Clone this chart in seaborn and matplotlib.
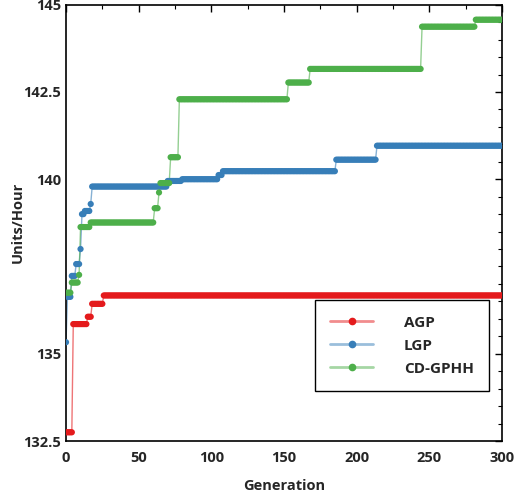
import numpy as np
import pandas as pd
import matplotlib
matplotlib.use("Agg")
import matplotlib.pyplot as plt
import matplotlib.lines as mlines
from matplotlib.legend_handler import HandlerTuple
from matplotlib.ticker import MultipleLocator, FixedLocator
import seaborn as sns

# Step series: generation where each level starts, and the level
agp_start = [0, 5, 15, 18, 26]
agp_value = [132.75, 135.85, 136.06, 136.43, 136.67]

lgp_start = [0, 1, 4, 7, 10, 11, 13, 17, 18, 70, 80, 105, 108, 186, 214]
lgp_value = [135.33, 136.63, 137.23, 137.57, 138.0, 139.0, 139.09, 139.29,
             139.79, 139.95, 140.0, 140.12, 140.23, 140.56, 140.96]

cd_start = [0, 4, 9, 10, 17, 61, 64, 65, 72, 78, 153, 168, 245, 282]
cd_value = [136.75, 137.04, 137.26, 138.63, 138.76, 139.17, 139.62, 139.89,
            140.63, 142.29, 142.77, 143.16, 144.37, 144.57]

methods = ["AGP", "LGP", "CD-GPHH"]
colors = ["#e41a1c", "#377eb8", "#4daf4a"]
n_gen = 301


def expand(starts, values):
    # repeat each level until the next change point
    return np.repeat(values, np.diff(np.array(starts + [n_gen])))


frames = []
for name, (s, v) in zip(methods, [(agp_start, agp_value),
                                  (lgp_start, lgp_value),
                                  (cd_start, cd_value)]):
    frames.append(pd.DataFrame({"Generation": np.arange(n_gen),
                                "Units/Hour": expand(s, v),
                                "method": name}))
df = pd.concat(frames, ignore_index=True)

sns.set_style("white")
plt.rcParams["font.family"] = ["Open Sans", "DejaVu Sans"]

fig = plt.figure(figsize=(5.21, 4.99), dpi=100)
ax = fig.add_axes([0.1267, 0.1162, 0.9635 - 0.1267, 0.9906 - 0.1162])

palette = dict(zip(methods, colors))
sns.lineplot(data=df, x="Generation", y="Units/Hour", hue="method",
             palette=palette, linewidth=1.0, alpha=0.6, ax=ax, legend=False)
sns.scatterplot(data=df, x="Generation", y="Units/Hour", hue="method",
                palette=palette, s=20, linewidth=0, ax=ax, legend=False,
                zorder=3)

ax.set_xlim(0, 300)
ax.set_ylim(132.5, 145)
ax.xaxis.set_major_locator(MultipleLocator(50))
ax.xaxis.set_minor_locator(MultipleLocator(25))
ax.yaxis.set_major_locator(FixedLocator([132.5, 135, 140, 142.5, 145]))
ax.yaxis.set_minor_locator(MultipleLocator(0.5))
ax.set_yticklabels(["132.5", "135", "140", "142.5", "145"])

ax.tick_params(which="both", direction="in", top=True, right=True,
               color="black", labelsize=10.5)
ax.tick_params(axis="x", which="major", pad=7)
ax.tick_params(which="major", length=5, width=1)
ax.tick_params(which="minor", length=3, width=0.8)
for lbl in ax.get_xticklabels() + ax.get_yticklabels():
    lbl.set_fontweight("bold")
for sp in ax.spines.values():
    sp.set_color("black")
    sp.set_linewidth(1.2)

ax.set_xlabel("Generation", fontsize=10.5, fontweight="bold", labelpad=10)
ax.set_ylabel("Units/Hour", fontsize=10.5, fontweight="bold", labelpad=-1)

# Custom legend: light line with a solid dot on top
handles = [(mlines.Line2D([], [], color=c, linewidth=2, alpha=0.5),
            mlines.Line2D([], [], color=c, marker="o", linestyle="none",
                          markersize=4.5)) for c in colors]
leg = ax.legend(handles=handles, labels=methods,
                handler_map={tuple: HandlerTuple(ndivide=1)},
                loc="lower right", bbox_to_anchor=(0.970, 0.1146),
                frameon=True, fancybox=False, framealpha=1, fontsize=11,
                handlelength=2.8, borderpad=1.0, labelspacing=0.59,
                handletextpad=2.0, borderaxespad=0)
for t in leg.get_texts():
    t.set_fontweight("bold")
leg.get_frame().set_edgecolor("black")
leg.get_frame().set_linewidth(1.0)

plt.savefig("out.png", dpi=100)
